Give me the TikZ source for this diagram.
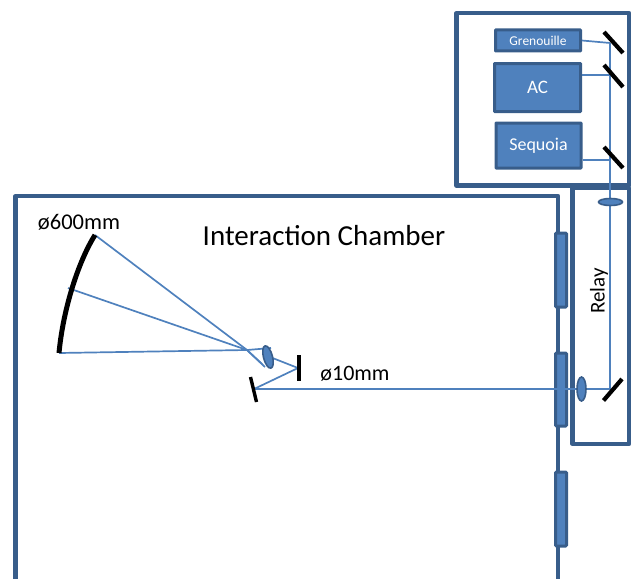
\documentclass[tikz,border=0pt]{standalone}
\usepackage{fontspec}
\usetikzlibrary{shapes.geometric}
\setmainfont{Carlito}
\definecolor{boxedge}{HTML}{385D8A}
\definecolor{boxfill}{HTML}{4F81BD}
\tikzset{
  x=1pt,y=-1pt,
  frame/.style={draw=boxedge,line width=4.2pt,line join=round},
  unit/.style={draw=boxedge,fill=boxfill,line width=3pt,rounded corners=0.5pt,text=white,inner sep=0pt},
  window/.style={draw=boxedge,fill=boxfill,line width=3pt,rounded corners=1pt},
  lens/.style={draw=boxedge,fill=boxfill,line width=1.6pt},
  beam/.style={draw=boxfill,line width=1.7pt},
  mirror/.style={draw=black,line width=4.2pt},
  label/.style={text=black,inner sep=0pt},
}
\begin{document}
\begin{tikzpicture}
\useasboundingbox (0,0) rectangle (631,578);
% frames
\draw[frame] (456.5,13) rectangle (629,185.5);
\draw[frame] (572.5,188) rectangle (629,444);
\draw[frame] (15.5,590) -- (15.5,196) -- (558,196) -- (558,590);
% coordinates of beam stops
\coordinate (mg) at (610,43);
\coordinate (ma) at (610,75);
\coordinate (ms) at (610,160);
\coordinate (mr) at (610,389);
\coordinate (ms2) at (254,389);
\coordinate (ms1) at (298,368);
\coordinate (pa) at (95,235);
\coordinate (pb) at (68,288);
\coordinate (pc) at (59,353);
\coordinate (focus) at (247,350);
\coordinate (la) at (265,367);
\coordinate (lb) at (262,364);
\coordinate (lc) at (271,348);
\coordinate (ld) at (270,357);
% units
\node[unit,minimum width=85pt,minimum height=21pt,font=\fontsize{13.5}{14}\selectfont] (gren) at (538,40.5) {Grenouille};
\node[unit,minimum width=86pt,minimum height=48pt,font=\fontsize{19}{20}\selectfont] (ac) at (537.5,87.5) {AC};
\node[unit,minimum width=85pt,minimum height=45pt,font=\fontsize{18}{19}\selectfont] (seq) at (538.5,145.5) {Sequoia};
% windows
\node[window,minimum width=11pt,minimum height=74pt,inner sep=0pt] (w1) at (561,270) {};
\node[window,minimum width=11pt,minimum height=73pt,inner sep=0pt] (w2) at (561,389.5) {};
\node[window,minimum width=11pt,minimum height=74pt,inner sep=0pt] (w3) at (561,509) {};
% beams
\draw[beam] (gren.east) -- (mg);
\draw[beam] (ac.east |- ma) -- (ma);
\draw[beam] (seq.east |- ms) -- (ms);
\draw[beam] (mg) -- (mr);
\draw[beam] (mr) -- (ms2);
\draw[beam] (ms2) -- (ms1);
\draw[beam] (ms1) -- (ld);
\draw[beam] (pa) -- (focus) -- (la);
\draw[beam] (pb) -- (focus) -- (lb);
\draw[beam] (pc) -- (focus) -- (lc);
% lenses
\node[lens,ellipse,minimum width=24pt,minimum height=7pt,inner sep=0pt] (l1) at (610.5,202) {};
\node[lens,ellipse,minimum width=9pt,minimum height=24pt,inner sep=0pt] (l2) at (581.5,389) {};
\node[lens,ellipse,rotate=15,minimum width=9pt,minimum height=23pt,inner sep=0pt] (l3) at (268,357) {};
% mirrors
\draw[mirror] (604,32) -- (623,53);
\draw[mirror] (604,65) -- (623,87);
\draw[mirror] (604,147) -- (623,168);
\draw[mirror] (603.5,400.5) -- (622,379);
\draw[mirror,line width=3.4pt] (250.5,377) -- (256.5,402);
\draw[mirror,line width=3.4pt] (299,355) -- (299,381);
\draw[black,line width=5pt] (pa) .. controls (78,262) and (63,310) .. (pc);
% labels
\node[label,font=\fontsize{29}{30}\selectfont] (title) at (324,236) {Interaction Chamber};
\node[label,font=\fontsize{22.5}{24}\selectfont] (d600) at (79,222) {ø600mm};
\node[label,font=\fontsize{22}{24}\selectfont] (d10) at (355,374) {ø10mm};
\node[label,rotate=90,font=\fontsize{21}{22}\selectfont] (relay) at (599,291) {Relay};
\end{tikzpicture}
\end{document}
